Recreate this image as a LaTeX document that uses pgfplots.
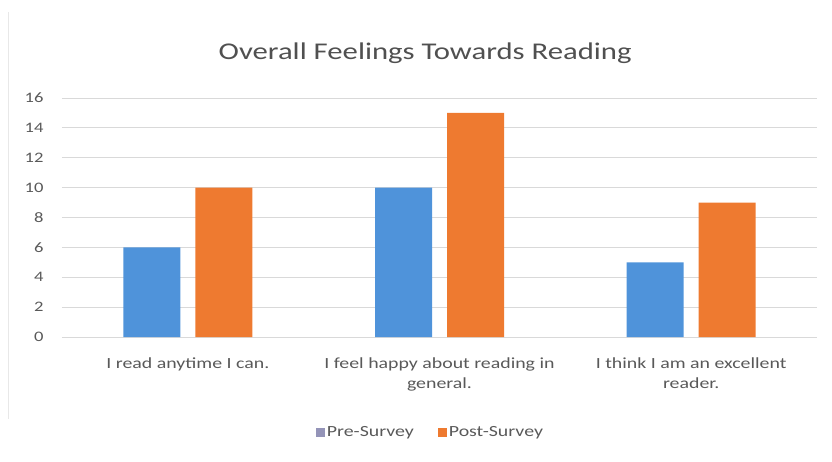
\documentclass[border=0pt]{standalone}
\usepackage{pgfplots}
\pgfplotsset{compat=1.18}
\usepackage{fontspec}
\setmainfont{Carlito}[FakeStretch=1.28]
\definecolor{preblue}{HTML}{4F93DA}
\definecolor{postorange}{HTML}{EE7A30}
\definecolor{txtgray}{HTML}{595959}
\definecolor{gridgray}{HTML}{D9D9D9}
\begin{document}
\begin{tikzpicture}[x=1pt,y=1pt]
\path[use as bounding box] (-62,-124) rectangle (770,337);
\draw[gridgray!60, line width=1pt] (-53,-82) -- (-53,325);
\begin{axis}[
  scale only axis, width=755pt, height=239pt,
  xmin=-0.5, xmax=2.5, ymin=0, ymax=16,
  ytick={0,2,...,16},
  xtick={0,1,2},
  xticklabels={I read anytime I can.,I feel happy about reading in\\general.,I think I am an excellent\\reader.},
  x tick label style={align=center, font=\fontsize{15.5}{20}\selectfont, text=txtgray, yshift=-17pt},
  y tick label style={font=\fontsize{14.5}{16}\selectfont, text=txtgray, xshift=-15pt, anchor=east},
  /pgf/number format/assume math mode=true,
  axis line style={draw=none},
  major tick length=0pt,
  ymajorgrids, grid style={gridgray, line width=0.8pt},
  ybar, bar width=57pt,
  title={Overall Feelings Towards Reading},
  title style={font=\fontsize{24}{28}\selectfont, text=txtgray!90!black, at={(0.481,1)}, anchor=base, yshift=33pt},
  legend style={at={(0.488,-0.40)}, anchor=center, draw=none, fill=none, legend columns=2, font=\fontsize{15.5}{17}\selectfont, text=txtgray, /tikz/every even column/.append style={column sep=22pt}},
  legend image code/.code={\fill[#1] (0pt,-4pt) rectangle (9pt,5pt);},
]
\addplot[fill=preblue, draw=none, bar shift=-36pt, legend image code/.code={\fill[gray!80!blue!70] (0pt,-4pt) rectangle (9pt,5pt);}] coordinates {(0,6) (1,10) (2,5)};
\addplot[fill=postorange, draw=none, bar shift=36pt] coordinates {(0,10) (1,15) (2,9)};
\legend{Pre-Survey,Post-Survey}
\end{axis}
\end{tikzpicture}
\end{document}
